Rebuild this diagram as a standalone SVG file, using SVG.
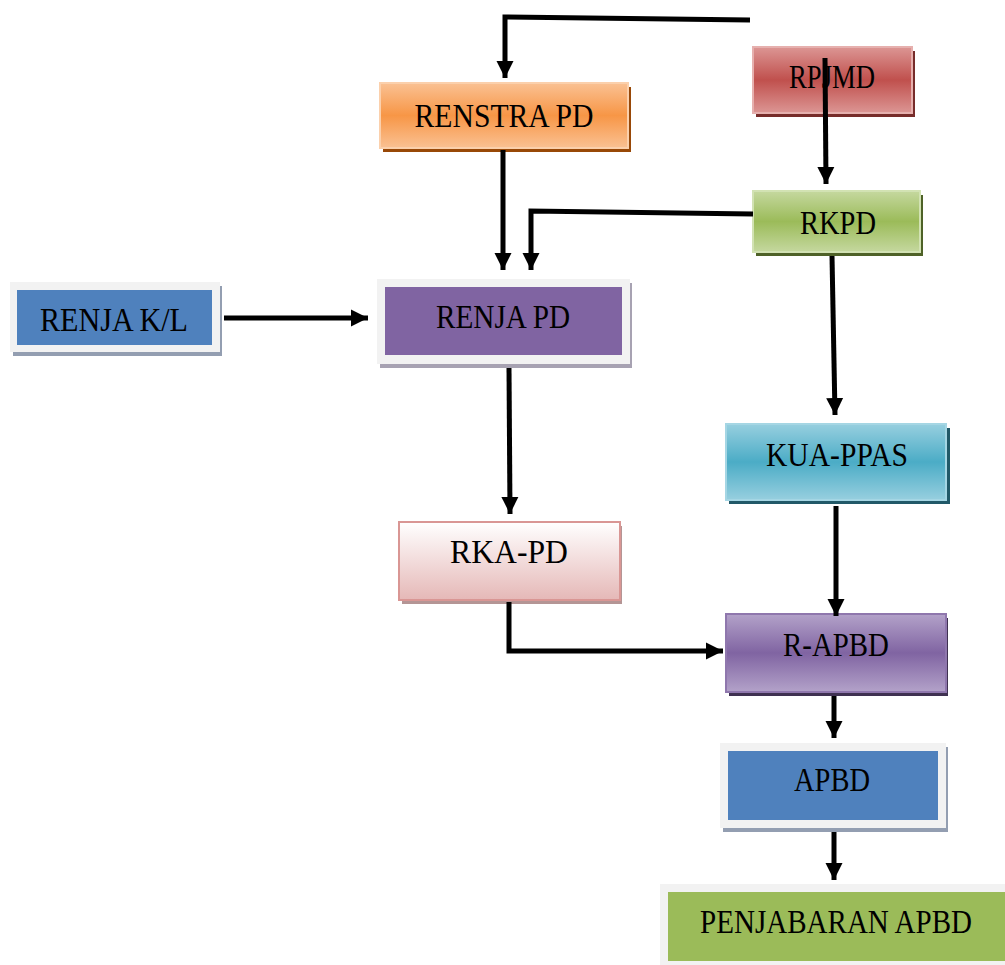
<svg xmlns="http://www.w3.org/2000/svg" width="1005" height="965" viewBox="0 0 1005 965">
<defs>
<linearGradient id="gOrange" x1="0" y1="0" x2="0" y2="1"><stop offset="0" stop-color="#fac193"/><stop offset="0.5" stop-color="#f79646"/><stop offset="1" stop-color="#fac193"/></linearGradient>
<linearGradient id="gRed" x1="0" y1="0" x2="0" y2="1"><stop offset="0" stop-color="#dc9694"/><stop offset="0.5" stop-color="#c0504d"/><stop offset="1" stop-color="#dc9694"/></linearGradient>
<linearGradient id="gGreen" x1="0" y1="0" x2="0" y2="1"><stop offset="0" stop-color="#c5d89f"/><stop offset="0.5" stop-color="#9bbb59"/><stop offset="1" stop-color="#c5d89f"/></linearGradient>
<linearGradient id="gCyan" x1="0" y1="0" x2="0" y2="1"><stop offset="0" stop-color="#97cfdf"/><stop offset="0.5" stop-color="#4bacc6"/><stop offset="1" stop-color="#97cfdf"/></linearGradient>
<linearGradient id="gPurple" x1="0" y1="0" x2="0" y2="1"><stop offset="0" stop-color="#b3a2c9"/><stop offset="0.5" stop-color="#8064a2"/><stop offset="1" stop-color="#b3a2c9"/></linearGradient>
<linearGradient id="gPink" x1="0" y1="0" x2="0" y2="1"><stop offset="0" stop-color="#ffffff"/><stop offset="1" stop-color="#e5b8b7"/></linearGradient>
<marker id="arr" markerWidth="4" markerHeight="4" refX="3.4" refY="2" orient="auto" markerUnits="strokeWidth"><path d="M0,0.3 L3.4,2 L0,3.7 Z" fill="#000"/></marker>
<style>
text{font-family:"Liberation Serif","Times New Roman",serif;font-size:33px;fill:#000;text-anchor:middle}
.c{fill:none;stroke:#000;stroke-width:5}
.frame{fill:#f2f2f2}
</style>
</defs>
<g id="renstra">
<rect x="383" y="87" width="248" height="65" fill="#984807"/>
<rect x="380" y="83" width="248" height="65" fill="url(#gOrange)" stroke="#fbd0ac" stroke-width="2"/>
<text x="504" y="127" textLength="179" lengthAdjust="spacingAndGlyphs">RENSTRA PD</text>
</g>
<g id="rpjmd">
<rect x="756" y="51" width="159" height="66" fill="#772c2a"/>
<rect x="753" y="47" width="159" height="66" fill="url(#gRed)" stroke="#e6b0ae" stroke-width="2"/>
<text x="832" y="88" textLength="86" lengthAdjust="spacingAndGlyphs">RPJMD</text>
</g>
<g id="rkpd">
<rect x="756" y="195" width="167" height="61" fill="#4f6228"/>
<rect x="753" y="191" width="167" height="61" fill="url(#gGreen)" stroke="#d2e2b3" stroke-width="2"/>
<text x="838" y="234" textLength="76" lengthAdjust="spacingAndGlyphs">RKPD</text>
</g>
<g id="renjapd">
<rect x="380" y="283" width="252" height="85" fill="#a7a2b2"/>
<rect x="377" y="279" width="253" height="85" class="frame"/>
<rect x="385" y="287" width="237" height="68" fill="#8064a2"/>
<text x="503" y="328" textLength="134" lengthAdjust="spacingAndGlyphs">RENJA PD</text>
</g>
<g id="renjakl">
<rect x="13" y="286" width="209" height="70" fill="#939eb1"/>
<rect x="10" y="282" width="210" height="70" class="frame"/>
<rect x="17" y="290" width="195" height="55" fill="#4f81bd"/>
<text x="114" y="331" textLength="148" lengthAdjust="spacingAndGlyphs">RENJA K/L</text>
</g>
<g id="rkapd">
<rect x="402" y="526" width="220" height="78" fill="#b49595"/>
<rect x="399" y="522" width="221" height="78" fill="url(#gPink)" stroke="#d99694" stroke-width="2"/>
<text x="509" y="563" textLength="118" lengthAdjust="spacingAndGlyphs">RKA-PD</text>
</g>
<g id="kuappas">
<rect x="729" y="428" width="221" height="76" fill="#215968"/>
<rect x="726" y="424" width="220" height="76" fill="url(#gCyan)" stroke="#a5d6e4" stroke-width="2"/>
<text x="837" y="466" textLength="142" lengthAdjust="spacingAndGlyphs">KUA-PPAS</text>
</g>
<g id="rapbd">
<rect x="729" y="618" width="219" height="78" fill="#3f3151"/>
<rect x="726" y="614" width="220" height="78" fill="url(#gPurple)" stroke="#8f77ad" stroke-width="2"/>
<text x="836" y="656" textLength="106" lengthAdjust="spacingAndGlyphs">R-APBD</text>
</g>
<g id="apbd">
<rect x="723" y="747" width="225" height="85" fill="#939eb1"/>
<rect x="720" y="743" width="226" height="85" class="frame"/>
<rect x="728" y="751" width="210" height="69" fill="#4f81bd"/>
<text x="832" y="791" textLength="76" lengthAdjust="spacingAndGlyphs">APBD</text>
</g>
<g id="penjabaran">
<rect x="660" y="884" width="345" height="81" class="frame"/>
<rect x="668" y="892" width="337" height="69" fill="#9bbb59"/>
<text x="836" y="933" textLength="272" lengthAdjust="spacingAndGlyphs">PENJABARAN APBD</text>
</g>
<g id="connectors">
<path class="c" d="M750,20 L505,17 L505,78" marker-end="url(#arr)"/>
<path class="c" d="M825,58 L826,184" marker-end="url(#arr)"/>
<path class="c" d="M753,214 L531,211 L531,270" marker-end="url(#arr)"/>
<path class="c" d="M503,150 L503,270" marker-end="url(#arr)"/>
<path class="c" d="M224,318 L368,318" marker-end="url(#arr)"/>
<path class="c" d="M509,368 L510,514" marker-end="url(#arr)"/>
<path class="c" d="M509,602 L509,651 L723,651" marker-end="url(#arr)"/>
<path class="c" d="M832,256 L835,415" marker-end="url(#arr)"/>
<path class="c" d="M836,506 L836,616" marker-end="url(#arr)"/>
<path class="c" d="M834,696 L834,738" marker-end="url(#arr)"/>
<path class="c" d="M834,832 L834,880" marker-end="url(#arr)"/>
</g>
</svg>
